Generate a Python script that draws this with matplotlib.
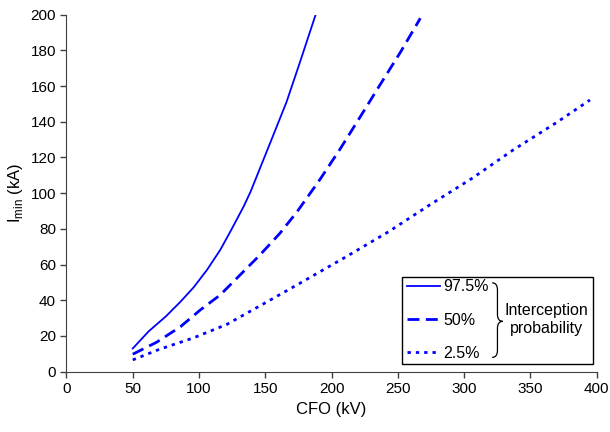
"""
Minimum intercepted current vs. CFO for three interception probabilities.
"""

import matplotlib.pyplot as plt
from matplotlib.patches import PathPatch, Rectangle
from matplotlib.path import Path

plt.rcParams["font.family"] = ["Liberation Sans", "DejaVu Sans"]

# CFO (kV) / Imin (kA) for each interception probability
cfo_975 = [50, 62, 75, 86, 96, 106, 116, 124, 134, 139, 152, 166, 176, 188]
imin_975 = [13, 22.6, 31, 39.2, 47.3, 57, 68.2, 79, 93, 101, 125, 151,
            173, 200]

cfo_50 = [50, 68, 86, 101, 116, 131, 146, 161, 174, 191, 206, 221, 236,
          252, 267]
imin_50 = [9.8, 16.5, 25.2, 34.6, 43, 54.2, 65.4, 77.5, 89.6, 107.4, 124.2,
           142, 160, 179, 198]

cfo_25 = [50, 70, 96, 121, 151, 176, 211, 243, 274, 306, 337, 369, 395]
imin_25 = [6.6, 12.5, 19, 26.5, 39, 49.5, 64.4, 78.4, 93.4, 108.3, 124.2,
           139.2, 152.2]

labels = ["97.5%", "50%", "2.5%"]
x_ticks = list(range(0, 401, 50))
y_ticks = list(range(0, 201, 20))

BLUE = "#0000ff"

fig = plt.figure(figsize=(6.1, 4.32), dpi=100)
ax = fig.add_axes([0.109, 0.1396, 0.869, 0.8264])

ax.plot(cfo_975, imin_975, color=BLUE, lw=1.3, label=labels[0])
ax.plot(cfo_50, imin_50, color=BLUE, lw=2.0, dashes=(4.3, 2.3),
        label=labels[1])
ax.plot(cfo_25, imin_25, color=BLUE, lw=2.0, dashes=(1.2, 1.8),
        label=labels[2])

ax.set_xlim(0, 400)
ax.set_ylim(0, 200)
ax.set_xticks(x_ticks)
ax.set_yticks(y_ticks)
ax.tick_params(direction="out", length=4, width=1, labelsize=11,
               color="#404040")
for side in ("top", "right"):
    ax.spines[side].set_visible(False)
for side in ("left", "bottom"):
    ax.spines[side].set_color("#404040")

ax.set_xlabel("CFO (kV)", fontsize=12, labelpad=4)
ax.set_ylabel(r"I$_{\mathregular{min}}$ (kA)", fontsize=12, labelpad=4)

# legend frame, entries, brace and group caption
ax.add_patch(Rectangle((0.633, 0.022), 0.36, 0.243, transform=ax.transAxes,
                       fill=False, edgecolor="black", lw=1.0, zorder=5))
ax.legend(loc="upper left", bbox_to_anchor=(0.63, 0.277), frameon=False,
          fontsize=11.5, handlelength=2.1, handletextpad=0.2,
          labelspacing=1.15, borderaxespad=0.0)

bx0, bxm, bx1 = 0.803, 0.813, 0.823
by0, bym, by1 = 0.249, 0.141, 0.040
brace = Path(
    [(bx0, by0), (bxm, by0), (bxm, by0 - 0.02),
     (bxm, bym + 0.02), (bxm, bym), (bx1, bym),
     (bxm, bym), (bxm, bym - 0.02),
     (bxm, by1 + 0.02), (bxm, by1), (bx0, by1)],
    [Path.MOVETO, Path.CURVE3, Path.CURVE3,
     Path.LINETO, Path.CURVE3, Path.CURVE3,
     Path.CURVE3, Path.CURVE3,
     Path.LINETO, Path.CURVE3, Path.CURVE3])
ax.add_patch(PathPatch(brace, transform=ax.transAxes, fill=False,
                       edgecolor="black", lw=0.9, zorder=5))
ax.text(0.905, 0.145, "Interception\nprobability", transform=ax.transAxes,
        ha="center", va="center", fontsize=11.5, linespacing=1.25)

fig.savefig("out.png", dpi=100)
